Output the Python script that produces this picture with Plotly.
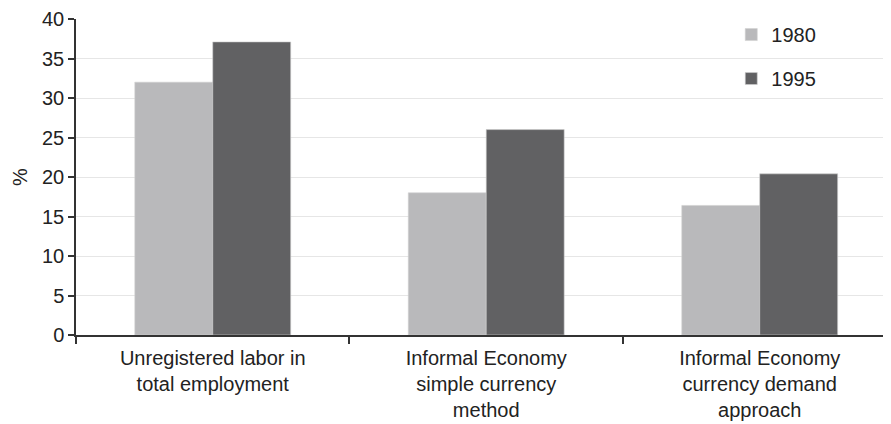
import plotly.graph_objects as go

categories = ["Unregistered labor in<br>total employment",
              "Informal Economy<br>simple currency<br>method",
              "Informal Economy<br>currency demand<br>approach"]
series_names = ["1980", "1995"]
values_1980 = [32.0, 18.0, 16.4]
values_1995 = [37.1, 26.0, 20.4]
y_ticks = [0, 5, 10, 15, 20, 25, 30, 35, 40]

colors = ["#b9b9bb", "#616163"]

fig = go.Figure()
for name, vals, col in zip(series_names, [values_1980, values_1995], colors):
    fig.add_trace(go.Bar(
        x=categories, y=vals, name=name, legendgroup=name,
        marker=dict(color=col, line=dict(color="#d0d0d0", width=0.6)),
    ))

fig.update_layout(
    width=883, height=416,
    margin=dict(l=68, r=0, t=8, b=89),
    paper_bgcolor="white", plot_bgcolor="white",
    barmode="group", bargap=0.43, bargroupgap=0,
    font=dict(family="Liberation Sans, Arial, sans-serif", size=20, color="#222222"),
    legend=dict(x=0.804, y=1.0125, xanchor="left", yanchor="top",
                tracegroupgap=15, font=dict(size=20),
                bgcolor="rgba(0,0,0,0)"),
)
fig.update_xaxes(
    range=[-0.5, 2.48], showline=True, linecolor="#333333", linewidth=1.5,
    ticks="outside", tickson="boundaries", ticklen=7, tickcolor="#333333",
    tickwidth=1.5, showgrid=False, tickfont=dict(size=20), ticklabelstandoff=4,
)
fig.update_yaxes(
    range=[0, 40], tickvals=y_ticks, showline=True, linecolor="#333333",
    linewidth=1.5, ticks="outside", ticklen=6, tickcolor="#333333", tickwidth=1.5,
    showgrid=True, gridcolor="#e6e6e6", gridwidth=1.2, zeroline=False,
    ticklabeloverflow="allow",
    title=dict(text="%", standoff=9, font=dict(size=20)), tickfont=dict(size=20),
)

fig.write_html("out.html")
